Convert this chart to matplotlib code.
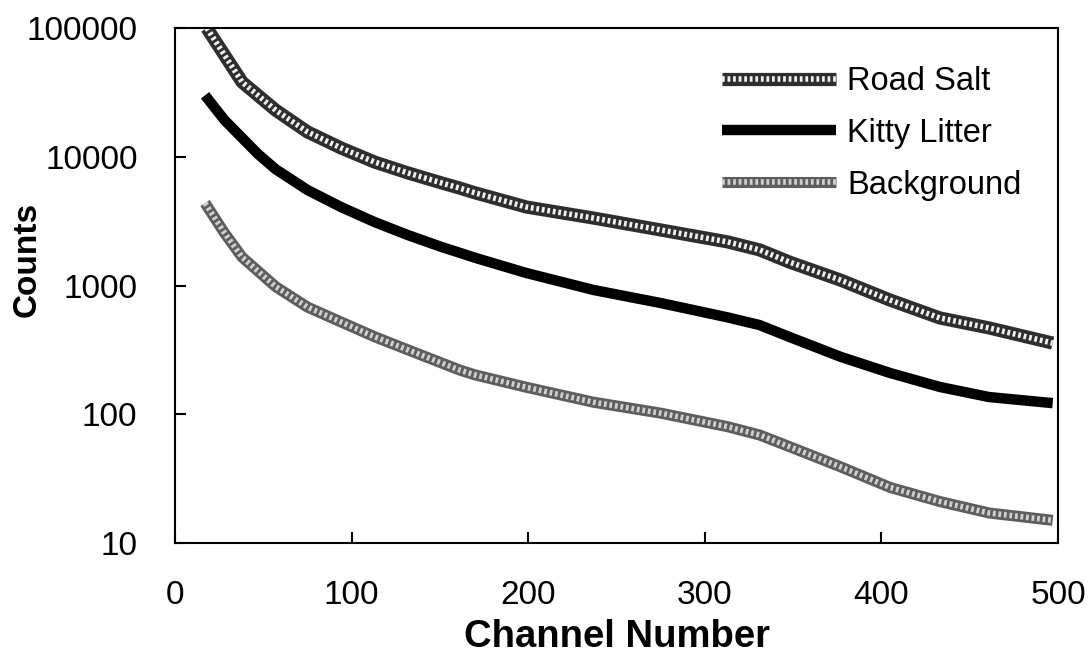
import matplotlib
matplotlib.use("Agg")
import matplotlib.pyplot as plt
import numpy as np

plt.rcParams['font.family'] = ['Liberation Sans', 'DejaVu Sans']

# values (channel, counts)
road_ch = [18, 38, 57, 75, 94, 113, 132, 151, 161, 170, 199, 237, 275, 313, 331, 348, 377, 405, 433, 461, 497]
road_ct = [100000, 38000, 23000, 15600, 11700, 9100, 7480, 6260, 5720, 5240, 4070, 3340, 2700, 2180, 1890, 1520, 1100, 770, 560, 468, 357]

kitty_ch = [17, 28, 38, 47, 57, 75, 94, 113, 132, 151, 161, 170, 199, 237, 275, 313, 331, 348, 377, 405, 433, 461, 497]
kitty_ct = [30000, 19300, 14000, 10500, 8000, 5520, 4070, 3110, 2460, 1990, 1800, 1640, 1250, 923, 731, 565, 493, 398, 279, 209, 163, 136, 122]

bg_ch = [17, 28, 38, 57, 75, 94, 113, 132, 151, 161, 170, 199, 237, 275, 313, 331, 348, 377, 405, 433, 461, 497]
bg_ct = [4370, 2560, 1660, 980, 680, 521, 400, 316, 250, 221, 202, 162, 124, 102, 80, 69, 56, 39, 27, 21, 17.1, 15]

x_ticks = [0, 100, 200, 300, 400, 500]
y_ticks = [10, 100, 1000, 10000, 100000]
y_labels = ['10', '100', '1000', '10000', '100000']

fig = plt.figure(figsize=(10.88, 6.54), dpi=100)
ax = fig.add_axes([175/1088, 111/654, 883/1088, 515/654])

# textured thick lines: dark base + dotted light overlay
rs1, = ax.plot(road_ch, road_ct, color='#2e2e2e', lw=9.5, solid_capstyle='butt')
rs2, = ax.plot(road_ch, road_ct, color='#f0f0f0', lw=4, ls=(0, (0.5, 0.5)))
kl, = ax.plot(kitty_ch, kitty_ct, color='black', lw=7.5, solid_capstyle='butt')
bg1, = ax.plot(bg_ch, bg_ct, color='#5e5e5e', lw=8, solid_capstyle='butt')
bg2, = ax.plot(bg_ch, bg_ct, color='#d0d0d0', lw=4, ls=(0, (0.5, 0.5)))

ax.set_yscale('log')
ax.set_xlim(0, 500)
ax.set_ylim(10, 100000)
ax.set_xticks(x_ticks)
ax.set_yticks(y_ticks)
ax.set_yticklabels(y_labels)
ax.minorticks_off()
ax.tick_params(axis='both', direction='in', length=8, width=1.5, labelsize=24)
ax.tick_params(axis='x', pad=27)
ax.tick_params(axis='y', pad=27)
for s in ax.spines.values():
    s.set_linewidth(1.5)

ax.set_xlabel('Channel Number', fontsize=27.5, fontweight='bold', va='top')
ax.xaxis.set_label_coords(0.5, -0.148)
ax.set_ylabel('Counts', fontsize=24, fontweight='bold', va='center')
ax.yaxis.set_label_coords(-0.167, 0.55)

ax.legend([(rs1, rs2), kl, (bg1, bg2)], ['Road Salt', 'Kitty Litter', 'Background'],
          loc='upper left', bbox_to_anchor=(722/1088, 1 - 66/654), bbox_transform=fig.transFigure,
          frameon=False, fontsize=23.5, handlelength=3.5, handletextpad=0.34,
          labelspacing=0.64, borderaxespad=0, borderpad=0)

fig.savefig('out.png', dpi=100)
